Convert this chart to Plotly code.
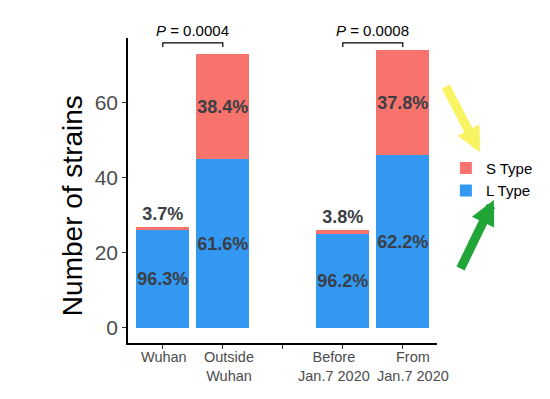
import plotly.graph_objects as go

categories = ["Wuhan", "Outside<br>Wuhan", " ", "Before<br>Jan.7 2020", "From<br>Jan.7 2020"]
label_shift = [1, 6, 0, -9, 10]
l_type = [26, 45, None, 25, 46]
s_type = [1, 28, None, 1, 28]
s_text_pos = ["outside", "inside", "inside", "outside", "inside"]
comparisons = [(0, 1, "0.0004"), (3, 4, "0.0008")]
y_ticks = [0, 20, 40, 60]

FONT = "Liberation Sans, Arial, sans-serif"
RED = "#F8736B"
BLUE = "#3298F2"
LABEL = "#3b3f45"


def pct(part, a, b):
    if part is None:
        return ""
    return f"{100 * part / (a + b):.1f}%"


l_labels = [pct(l, l, s) if l is not None else "" for l, s in zip(l_type, s_type)]
s_labels = [pct(s, l, s) if s is not None else "" for l, s in zip(l_type, s_type)]

fig = go.Figure()
fig.add_trace(go.Bar(
    x=categories, y=l_type, name="L Type", marker=dict(color=BLUE, line=dict(width=0)),
    text=l_labels, textposition="inside", insidetextanchor="middle", textangle=0,
    textfont=dict(family=FONT, size=18, color=LABEL), constraintext="none",
    width=0.88, texttemplate="<b>%{text}</b>",
))
fig.add_trace(go.Bar(
    x=categories, y=s_type, name="S Type", marker=dict(color=RED, line=dict(width=0)),
    text=s_labels, textposition=s_text_pos, insidetextanchor="middle", textangle=0,
    textfont=dict(family=FONT, size=18, color=LABEL), constraintext="none",
    width=0.88, texttemplate="<b>%{text}</b>", cliponaxis=False,
))

shapes = []
annotations = []
for a, b, p in comparisons:
    shapes.append(dict(type="path", xref="x", yref="y",
                       path=f"M {a},74.9 L {a},76 L {b},76 L {b},74.9",
                       line=dict(color="black", width=1.2)))
    annotations.append(dict(x=(a + b) / 2, y=76.6, xref="x", yref="y",
                            text=f"<i>P</i> = {p}", showarrow=False, yanchor="bottom",
                            font=dict(family=FONT, size=15, color="black")))

# category labels below the axis (nudged apart so they do not collide)
for cat, dx in zip(categories, label_shift):
    if cat.strip():
        annotations.append(dict(x=cat, y=0, xref="x", yref="paper", text=cat,
                                showarrow=False, xanchor="center", yanchor="top",
                                xshift=dx, yshift=-4, align="center",
                                font=dict(family=FONT, size=14.5, color="#4d4d4d")))

# y-axis title
annotations.append(dict(x=-0.181, y=0.449, xref="paper", yref="paper",
                        text="Number of strains", textangle=-90, showarrow=False,
                        xanchor="center", yanchor="middle",
                        font=dict(family=FONT, size=28, color="black")))

# decorative arrows pointing to the legend
annotations.append(dict(x=1.139, y=0.626, xref="paper", yref="paper", text="",
                        showarrow=True, ax=-35, ay=-67, arrowhead=2, arrowsize=0.55,
                        arrowwidth=9, arrowcolor="#F8F360"))
annotations.append(dict(x=1.184, y=0.469, xref="paper", yref="paper", text="",
                        showarrow=True, ax=-34, ay=70, arrowhead=2, arrowsize=0.55,
                        arrowwidth=9, arrowcolor="#21A536"))

fig.update_layout(
    width=534, height=383,
    margin=dict(l=120, r=105, t=30, b=48),
    paper_bgcolor="white", plot_bgcolor="white",
    barmode="stack", bargap=0.12,
    font=dict(family=FONT),
    showlegend=True,
    legend=dict(xref="container", yref="container", x=0.82, y=0.625,
                xanchor="left", yanchor="top", traceorder="reversed",
                font=dict(family=FONT, size=15, color="black"), tracegroupgap=0,
                itemclick=False, bgcolor="rgba(0,0,0,0)"),
    shapes=shapes,
    annotations=annotations,
    xaxis=dict(categoryorder="array", categoryarray=categories, range=[-0.58, 4.57],
               showticklabels=False,
               showline=True, linecolor="black", linewidth=1.5, ticks="outside",
               ticklen=4, tickcolor="#333333", tickwidth=1.2, showgrid=False,
               automargin=False, zeroline=False),
    yaxis=dict(range=[-4, 77.3], tickvals=y_ticks, showline=True, linecolor="black",
               linewidth=1.5, ticks="outside", ticklen=4, tickcolor="#333333",
               tickwidth=1.2, showgrid=False, zeroline=False, automargin=False,
               tickfont=dict(family=FONT, size=21, color="#4d4d4d")),
)

fig.write_html("out.html")
